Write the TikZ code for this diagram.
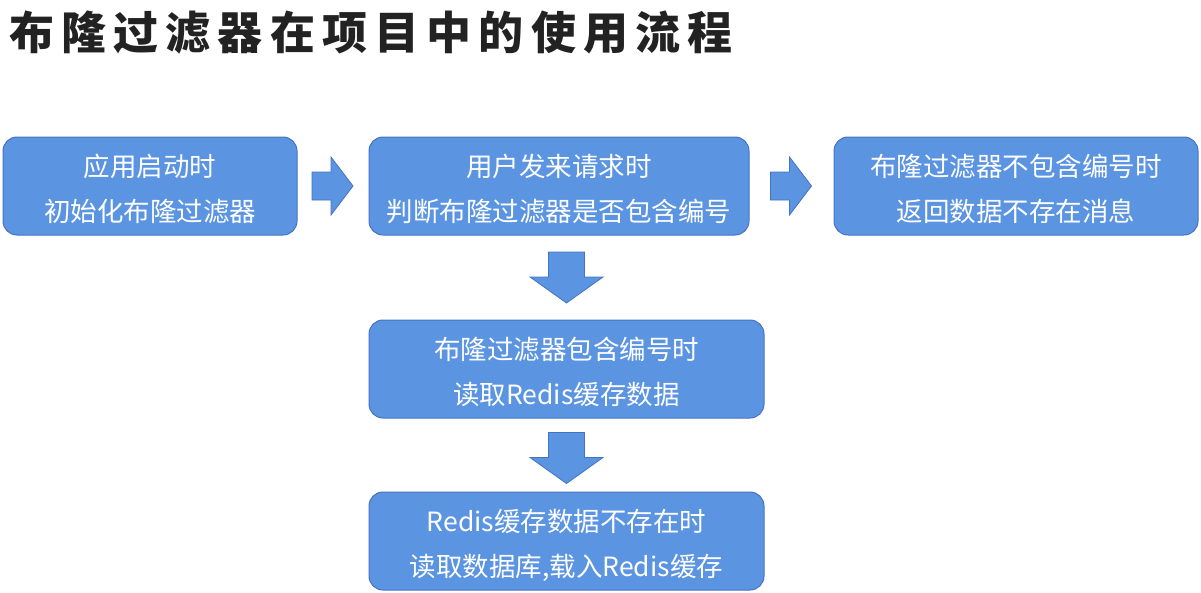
\documentclass[tikz,border=0pt]{standalone}
\usepackage{fontspec}
\newfontfamily\cjk{Noto Sans CJK SC}
\usetikzlibrary{calc}
\definecolor{boxfill}{RGB}{91,148,225}
\definecolor{boxedge}{RGB}{70,114,196}
\definecolor{titlecol}{RGB}{34,34,34}
\tikzset{
  box/.style={draw=boxedge, line width=1pt, fill=boxfill, rounded corners=14pt,
    text=white, align=center, font=\cjk\fontsize{26.5}{45}\selectfont, inner sep=0pt,
    text height=70pt, text depth=0pt},
  blockarrow/.style={draw=boxedge, line width=0.8pt, fill=boxfill, line join=miter},
  rarrow/.pic={\path[blockarrow] (-21,-14) -- (-2,-14) -- (-2,-29) -- (20,0) -- (-2,29) -- (-2,14) -- (-21,14) -- cycle;},
  darrow/.pic={\path[blockarrow] (-18,-25.5) -- (18,-25.5) -- (18,-0.5) -- (36.5,-0.5) -- (0,25.5) -- (-36.5,-0.5) -- (-18,-0.5) -- cycle;},
}
\begin{document}
\begin{tikzpicture}[x=1pt,y=-1pt]
\useasboundingbox (0,0) rectangle (1201,592);
\node[anchor=west, text=titlecol, inner sep=0pt,
  font=\cjk\bfseries\fontsize{45}{50}\selectfont\addfontfeature{LetterSpace=16}] (title) at (9,33) {布隆过滤器在项目中的使用流程};
\node[box, minimum width=294pt, minimum height=98pt] (a) at (150,186) {应用启动时\\初始化布隆过滤器};
\node[box, minimum width=380pt, minimum height=98pt] (b) at (559,186) {用户发来请求时\\判断布隆过滤器是否包含编号};
\node[box, minimum width=364pt, minimum height=98pt] (c) at (1016,186) {布隆过滤器不包含编号时\\返回数据不存在消息};
\node[box, minimum width=395pt, minimum height=98pt] (d) at (566.5,369) {布隆过滤器包含编号时\\读取Redis缓存数据};
\node[box, minimum width=395pt, minimum height=98pt] (e) at (566.5,541) {Redis缓存数据不存在时\\读取数据库,载入Redis缓存};
\path ($(a.east)!0.5!(b.west)$) pic {rarrow};
\path ($(b.east)!0.5!(c.west)$) pic {rarrow};
\path (d.north |- {$(b.south)!0.5!(d.north)$}) pic {darrow};
\path ($(d.south)!0.5!(e.north)$) ++(0,3) pic {darrow};
\end{tikzpicture}
\end{document}
